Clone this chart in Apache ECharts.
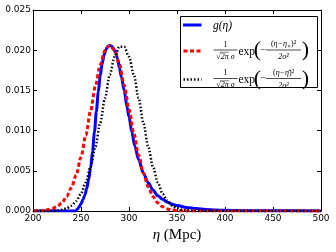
<!DOCTYPE html>
<html><head><meta charset="utf-8">
<script src="https://cdn.jsdelivr.net/npm/echarts@6/dist/echarts.min.js"></script>
<style>html,body{margin:0;padding:0;background:#fff}#c{width:336px;height:252px}</style>
</head><body><div id="c"></div>
<script>
// ---- data ----
const xTicks = [200, 250, 300, 350, 400, 450, 500];
const yTicks = [0.000, 0.005, 0.010, 0.015, 0.020, 0.025];

const etaBlue = [200,244,246,248,250,252,254,256,258,260,262,264,266,268,270,272,274,276,278,280,282,284,286,288,290,292,295,298,300,303,306,310,315,320,325,330,335,340,345,350,360,370,380,390,400,420,450,500];
const gBlue   = [0,0,0.0002,0.0005,0.0009,0.0014,0.0020,0.0028,0.0039,0.0054,0.0074,0.0098,0.0124,0.0148,0.0168,0.0183,0.0194,0.0201,0.0205,0.0206,0.0205,0.0202,0.0197,0.0190,0.0178,0.0167,0.0150,0.0129,0.0117,0.0098,0.0081,0.0064,0.0047,0.0035,0.0026,0.0019,0.00145,0.0011,0.00085,0.00068,0.00045,0.0003,0.0002,0.00013,0.00008,0.00004,0.00002,0.00001];

const etaRed = [200,205,210,215,220,225,230,235,240,245,250,255,260,265,270,275,280,285,290,295,300,305,310,315,320,325,330,335,340,345,350,355,360,400,500];
const gaussRed = [0.00001,0.00002,0.00005,0.00015,0.0003,0.00055,0.0010,0.0018,0.0029,0.00447,0.0067,0.00943,0.01249,0.01555,0.01818,0.01997,0.0206,0.0200,0.01825,0.01565,0.01265,0.00965,0.00695,0.0047,0.0030,0.0018,0.0010,0.00053,0.00026,0.00012,0.00005,0.00002,0.00001,0,0];

const etaBlack = [200,205,210,215,220,225,230,235,240,245,250,255,260,265,270,275,280,285,290,295,300,305,310,315,320,325,330,335,340,345,350,355,360,365,370,380,500];
const gaussBlack = [0,0,0,0.00001,0.00003,0.00007,0.00016,0.00033,0.00066,0.00123,0.00215,0.00355,0.0055,0.0080,0.01094,0.01405,0.01695,0.0192,0.02044,0.02044,0.0192,0.01695,0.01405,0.01094,0.0080,0.0055,0.00355,0.00215,0.00123,0.00066,0.00033,0.00016,0.00007,0.00003,0.00001,0,0];

const SERIF = "'Liberation Serif','DejaVu Serif',serif";
const pairs = (xs, ys) => xs.map((x, i) => [x, ys[i]]);

const chart = echarts.init(document.getElementById('c'), null, {renderer: 'canvas'});

function txt(x, y, text, size, opts) {
  opts = opts || {};
  return {type: 'text', x: x, y: y, z: 110, style: Object.assign({
    text: text, fontSize: size, fontFamily: SERIF, fill: '#000',
    align: 'center', verticalAlign: 'middle'}, opts)};
}
function ln(x1, y1, x2, y2, style) {
  return {type: 'line', z: 110, shape: {x1: x1, y1: y1, x2: x2, y2: y2},
    style: Object.assign({stroke: '#000', lineWidth: 0.7}, style || {})};
}
function formula(cy, numer) {
  const els = [];
  els.push(txt(225.5, cy - 6.5, '1', 8));
  els.push(ln(213.5, cy - 1, 237.5, cy - 1));
  els.push(txt(225.5, cy + 5.5, '√2π σ', 8, {fontStyle: 'italic'}));
  els.push(ln(220, cy + 1.3, 229, cy + 1.3, {lineWidth: 0.5}));
  els.push(txt(238.5, cy + 0.5, 'exp', 11.5, {align: 'left'}));
  els.push(txt(257.5, cy - 0.5, '(', 22));
  els.push(txt(263, cy - 1, '−', 10));
  els.push({type: 'text', x: 283.5, y: cy - 7, z: 110, style: {
    text: numer, align: 'center', verticalAlign: 'middle',
    rich: {a: {fontSize: 8, fontFamily: SERIF, fontStyle: 'italic'},
           u: {fontSize: 8, fontFamily: SERIF},
           s: {fontSize: 6, fontFamily: SERIF, padding: [4, 0, 0, 0]}}}});
  els.push(ln(266, cy - 1, 301, cy - 1));
  els.push(txt(283.5, cy + 6, '2σ²', 8, {fontStyle: 'italic'}));
  els.push(txt(305.5, cy - 0.5, ')', 22));
  return els;
}

const graphics = [
  {type: 'rect', z: 100, shape: {x: 180.5, y: 16.5, width: 137, height: 71},
   style: {fill: '#fff', stroke: '#000', lineWidth: 1}},
  ln(183, 25, 201.5, 25, {stroke: '#0000ff', lineWidth: 3}),
  txt(213, 25.5, 'g(η)', 11.5, {align: 'left', fontStyle: 'italic'}),
  ln(183.5, 51, 201.5, 51, {stroke: '#ff0000', lineWidth: 3, lineDash: [4, 2.5]}),
  ln(183.5, 79.5, 201.5, 79.5, {stroke: '#000', lineWidth: 2.5, lineDash: [1.5, 2]})
].concat(formula(51, '{u|(}{a|η−η}{s|∗}{u|)²}'))
 .concat(formula(79.5, '{u|(}{a|η−η̄}{u|)²}'));

const axisCommon = {
  type: 'value', splitLine: {show: false},
  axisLine: {show: true, onZero: false, lineStyle: {color: '#000', width: 1}},
  axisTick: {show: true, inside: true, length: 4, lineStyle: {color: '#000', width: 1}}
};

chart.setOption({
  animation: false,
  backgroundColor: '#fff',
  grid: {left: 33, right: 15, top: 10, bottom: 41, containLabel: false},
  xAxis: [
    Object.assign({}, axisCommon, {
      position: 'bottom', min: xTicks[0], max: xTicks[xTicks.length - 1], interval: 50,
      axisLabel: {color: '#000', fontSize: 9, fontFamily: 'DejaVu Sans', margin: 3},
      name: '{i|η} (Mpc)', nameLocation: 'middle', nameGap: 16,
      nameTextStyle: {fontSize: 15, fontFamily: SERIF, color: '#000', verticalAlign: 'top',
        rich: {i: {fontSize: 15, fontFamily: SERIF, fontStyle: 'italic', verticalAlign: 'top'}}}
    }),
    Object.assign({}, axisCommon, {
      position: 'top', min: xTicks[0], max: xTicks[xTicks.length - 1], interval: 50,
      axisLabel: {show: false}
    })
  ],
  yAxis: [
    Object.assign({}, axisCommon, {
      position: 'left', min: yTicks[0], max: yTicks[yTicks.length - 1], interval: 0.005,
      axisLabel: {color: '#000', fontSize: 9, fontFamily: 'DejaVu Sans', margin: 2,
        formatter: v => v.toFixed(3)}
    }),
    Object.assign({}, axisCommon, {
      position: 'right', min: yTicks[0], max: yTicks[yTicks.length - 1], interval: 0.005,
      axisLabel: {show: false}
    })
  ],
  series: [
    {type: 'line', name: 'g', data: pairs(etaBlue, gBlue), symbol: 'none',
     smooth: 0.3, smoothMonotone: 'x', z: 2,
     lineStyle: {color: '#0000ff', width: 3}},
    {type: 'line', name: 'red', data: pairs(etaRed, gaussRed), symbol: 'none',
     smooth: 0.3, smoothMonotone: 'x', z: 3,
     lineStyle: {color: '#ff0000', width: 3, type: [4, 2.5]}},
    {type: 'line', name: 'black', data: pairs(etaBlack, gaussBlack), symbol: 'none',
     smooth: 0.3, smoothMonotone: 'x', z: 4,
     lineStyle: {color: '#000000', width: 2.5, type: [1.5, 2]}}
  ],
  graphic: graphics
});
</script></body></html>
